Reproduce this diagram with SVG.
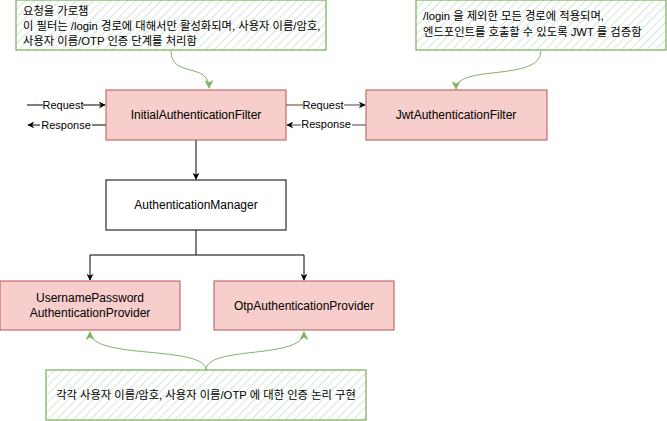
<svg xmlns="http://www.w3.org/2000/svg" width="667" height="421" viewBox="0 0 667 421">
<style>
.box{fill:#f8cecc;stroke:#b85450;stroke-width:1}
.wbox{fill:#ffffff;stroke:#000000;stroke-width:1}
.note{fill:url(#hatch);stroke:#82b366;stroke-width:1.3}
.t{font-family:"Liberation Sans","Noto Sans CJK KR",sans-serif;font-size:12px;fill:#000}
.n{font-size:11.3px}
.c{text-anchor:middle}
.el{font-family:"Liberation Sans","Noto Sans CJK KR",sans-serif;font-size:11px;fill:#000;text-anchor:middle}
.k{fill:none;stroke:#000;stroke-width:1}
.g{fill:none;stroke:#808080;stroke-width:1.5}
.gr{fill:none;stroke:#82b366;stroke-width:1}
</style>
<defs>
<pattern id="hatch" patternUnits="userSpaceOnUse" width="6" height="6" patternTransform="rotate(45)">
<rect width="6" height="6" fill="#ffffff"/>
<line x1="0" y1="0" x2="0" y2="6" stroke="#d5e8d4" stroke-width="2"/>
</pattern>
<marker id="ak" viewBox="0 0 10 10" refX="9" refY="5" markerWidth="7" markerHeight="7" markerUnits="userSpaceOnUse" orient="auto">
<path d="M0,0 L10,5 L0,10 L3,5 Z" fill="#000"/>
</marker>
<marker id="ag" viewBox="0 0 10 10" refX="9" refY="5" markerWidth="9" markerHeight="9" markerUnits="userSpaceOnUse" orient="auto">
<path d="M0,0 L10,5 L0,10 L3,5 Z" fill="#82b366"/>
</marker>
</defs>

<g id="connectors">
<line class="k" x1="27" y1="105" x2="105" y2="105" marker-end="url(#ak)"/>
<rect x="43" y="98" width="40" height="13" fill="#fff"/>
<text class="el" x="63" y="109">Request</text>
<line class="k" x1="106" y1="125" x2="28" y2="125" marker-end="url(#ak)"/>
<rect x="40" y="118" width="52" height="13" fill="#fff"/>
<text class="el" x="66" y="129">Response</text>

<line class="g" x1="286" y1="105" x2="365" y2="105" marker-end="url(#ak)"/>
<rect x="303" y="98" width="41" height="13" fill="#fff"/>
<text class="el" x="323" y="109">Request</text>
<line class="g" x1="366" y1="125" x2="287" y2="125" marker-end="url(#ak)"/>
<rect x="301" y="118" width="51" height="13" fill="#fff"/>
<text class="el" x="326" y="128">Response</text>

<line class="k" x1="196" y1="140" x2="196" y2="179" marker-end="url(#ak)"/>
<polyline class="k" points="196,230 196,255 90,255 90,280" marker-end="url(#ak)"/>
<polyline class="k" points="196,255 304,255 304,280" marker-end="url(#ak)"/>

<path class="gr" d="M171,51 C171,78 209,62 209,88" marker-end="url(#ag)"/>
<path class="gr" d="M541,51 C541,82 456,64 456,89" marker-end="url(#ag)"/>
<path class="gr" d="M206,370 C206,345 90,360 90,332" marker-end="url(#ag)"/>
<path class="gr" d="M206,370 C206,345 304,360 304,332" marker-end="url(#ag)"/>
</g>

<g id="note1">
<rect class="note" x="16" y="0" width="310" height="50"/>
<text class="t n" x="23" y="15">요청을 가로챔</text>
<text class="t n" x="23" y="30">이 필터는 /login 경로에 대해서만 활성화되며, 사용자 이름/암호,</text>
<text class="t n" x="23" y="45">사용자 이름/OTP 인증 단계를 처리함</text>
</g>

<g id="note2">
<rect class="note" x="416" y="0" width="250" height="50"/>
<text class="t n" x="423" y="20">/login 을 제외한 모든 경로에 적용되며,</text>
<text class="t n" x="423" y="36">엔드포인트를 호출할 수 있도록 JWT 를 검증함</text>
</g>

<g id="initialFilter">
<rect class="box" x="106" y="90" width="180" height="50"/>
<text class="t c" x="196" y="119">InitialAuthenticationFilter</text>
</g>

<g id="jwtFilter">
<rect class="box" x="366" y="90" width="181" height="50"/>
<text class="t c" x="456" y="119">JwtAuthenticationFilter</text>
</g>

<g id="authManager">
<rect class="wbox" x="106" y="180" width="180" height="50"/>
<text class="t c" x="196" y="209">AuthenticationManager</text>
</g>

<g id="upProvider">
<rect class="box" x="0" y="281" width="180" height="49"/>
<text class="t c" x="90" y="302">UsernamePassword</text>
<text class="t c" x="90" y="317">AuthenticationProvider</text>
</g>

<g id="otpProvider">
<rect class="box" x="214" y="281" width="180" height="49"/>
<text class="t c" x="304" y="310">OtpAuthenticationProvider</text>
</g>

<g id="note3">
<rect class="note" x="46" y="370" width="320" height="50"/>
<text class="t n c" x="206" y="399">각각 사용자 이름/암호, 사용자 이름/OTP 에 대한 인증 논리 구현</text>
</g>
</svg>
